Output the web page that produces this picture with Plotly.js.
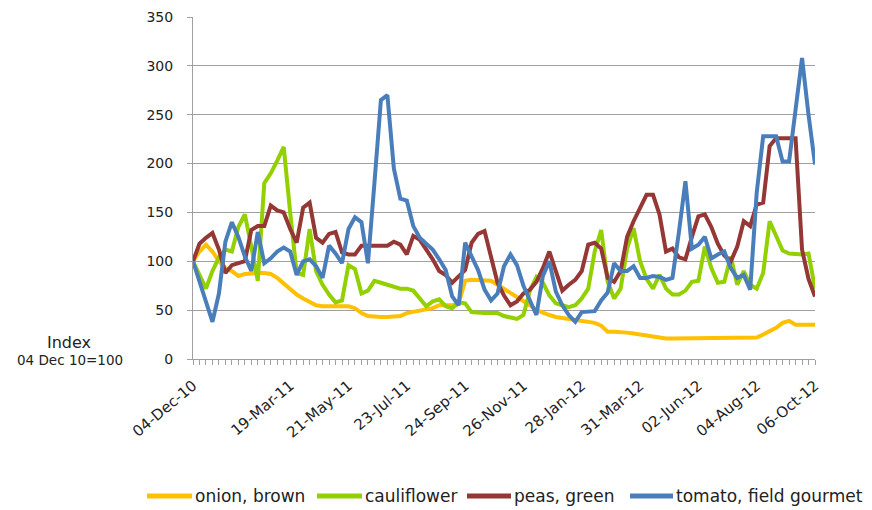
<!DOCTYPE html>
<html><head><meta charset="utf-8">
<script src="https://cdn.plot.ly/plotly-3.0.1.min.js"></script>
<style>html,body{margin:0;padding:0;background:#fff}#chart{width:872px;height:510px}</style>
</head><body><div id="chart"></div>
<script>
const weeks = [
'2010-12-04','2010-12-11','2010-12-18','2010-12-25',
'2011-01-01','2011-01-08','2011-01-15','2011-01-22','2011-01-29',
'2011-02-05','2011-02-12','2011-02-19','2011-02-26',
'2011-03-05','2011-03-12','2011-03-19','2011-03-26',
'2011-04-02','2011-04-09','2011-04-16','2011-04-23','2011-04-30',
'2011-05-07','2011-05-14','2011-05-21','2011-05-28',
'2011-06-04','2011-06-11','2011-06-18','2011-06-25',
'2011-07-02','2011-07-09','2011-07-16','2011-07-23','2011-07-30',
'2011-08-06','2011-08-13','2011-08-20','2011-08-27',
'2011-09-03','2011-09-10','2011-09-17','2011-09-24',
'2011-10-01','2011-10-08','2011-10-15','2011-10-22','2011-10-29',
'2011-11-05','2011-11-12','2011-11-19','2011-11-26',
'2011-12-03','2011-12-10','2011-12-17','2011-12-24','2011-12-31',
'2012-01-07','2012-01-14','2012-01-21','2012-01-28',
'2012-02-04','2012-02-11','2012-02-18','2012-02-25',
'2012-03-03','2012-03-10','2012-03-17','2012-03-24','2012-03-31',
'2012-04-07','2012-04-14','2012-04-21','2012-04-28',
'2012-05-05','2012-05-12','2012-05-19','2012-05-26',
'2012-06-02','2012-06-09','2012-06-16','2012-06-23','2012-06-30',
'2012-07-07','2012-07-14','2012-07-21','2012-07-28',
'2012-08-04','2012-08-11','2012-08-18','2012-08-25',
'2012-09-01','2012-09-08','2012-09-15','2012-09-22','2012-09-29',
'2012-10-06'];

const onion = [100,110,117,110,100,93,90,85,87,88,88,88,87,83,77,71,66,62,58,55,
54,54,54,54,54,52,47,44,43,43,43,43,44,47,48,49,50,52,55,55,
55,57,80,81,81,81,80,76,72,68,64,60,55,50,47,45,43,42,41,40,
38,38,37,34,28,28,28,27,26,25,24,22,21,21,21,21,21,21,21,21,
21,21,21,21,21,21,21,22,25,28,32,37,39,35,35,35,35];

const cauliflower = [100,85,72,90,104,112,110,135,148,115,80,180,190,203,217,150,88,86,133,90,
76,66,58,60,96,92,67,70,80,78,76,73,72,72,70,62,54,59,61,54,
52,58,57,48,47,47,47,47,44,42,41,45,70,84,78,65,57,55,53,55,
62,72,110,132,79,62,72,113,134,100,82,72,86,72,66,66,70,79,80,115,
93,78,79,105,76,90,76,72,88,141,125,111,108,107,107,108,72];

const peas = [100,118,124,129,112,88,96,98,100,132,136,136,157,152,150,133,119,155,160,124,
119,128,130,109,107,107,116,116,116,116,116,120,117,107,126,122,112,102,90,86,
78,84,91,119,128,131,105,78,65,55,59,67,71,79,93,110,90,70,76,81,
90,117,119,113,83,79,90,125,141,155,168,168,148,110,113,104,102,125,146,148,
135,118,106,100,115,141,136,158,160,218,226,226,226,226,112,82,64];

const tomato = [100,80,60,38,67,120,140,125,105,90,130,98,103,110,114,110,86,100,102,95,
83,116,108,98,133,145,140,98,180,265,270,195,164,162,136,124,118,112,102,91,
64,55,119,105,91,71,60,67,95,107,96,75,60,45,85,100,69,55,45,38,
48,48,49,60,68,98,90,90,95,83,83,85,84,81,83,130,182,113,117,125,
103,107,110,93,83,86,71,170,228,228,228,202,202,255,308,250,199];

const seriesNames = ['onion, brown','cauliflower','peas, green','tomato, field gourmet'];
const seriesValues = [onion, cauliflower, peas, tomato];
const seriesColors = ['#FFC000','#92D000','#953735','#4A7EBB'];

const tickDates = ['2010-12-04','2011-03-19','2011-05-21','2011-07-23','2011-09-24','2011-11-26',
'2012-01-28','2012-03-31','2012-06-02','2012-08-04','2012-10-06'];
const tickLabels = ['04-Dec-10','19-Mar-11','21-May-11','23-Jul-11','24-Sep-11','26-Nov-11',
'28-Jan-12','31-Mar-12','02-Jun-12','04-Aug-12','06-Oct-12'];
const yTitle1 = 'Index';
const yTitle2 = '04 Dec 10=100';

const FONT = 'DejaVu Sans, Verdana, sans-serif';
const AXC = '#A0A0A0';
const TXT = '#222222';

// plot-area pixel frame (for placing the non-data decorations)
const PL = 193, PR = 815, PT = 17, PB = 359;
const px = v => (v - PL) / (PR - PL);
const py = v => (PB - v) / (PB - PT);

const traces = seriesValues.map((v, k) => ({
  type: 'scatter', mode: 'lines', name: seriesNames[k],
  x: weeks, y: v,
  line: {color: seriesColors[k], width: 4, shape: 'linear'},
  hoverinfo: 'skip', showlegend: false
}));

// custom legend: sample positions (px) along the bottom
const legSample = [[147, 192], [317, 362], [467, 511], [630, 673]];
const legY = 496;
const shapes = legSample.map((s, k) => ({
  type: 'line', xref: 'paper', yref: 'paper',
  x0: px(s[0]), x1: px(s[1]), y0: py(legY), y1: py(legY),
  line: {color: seriesColors[k], width: 5}
}));
const legendAnn = legSample.map((s, k) => ({
  text: seriesNames[k], xref: 'paper', yref: 'paper',
  x: px(s[1] + 1), y: py(legY), xanchor: 'left', yanchor: 'middle',
  showarrow: false, font: {family: FONT, size: 17, color: TXT}
}));

const layout = {
  width: 872, height: 510,
  margin: {l: PL, r: 872 - PR, t: PT, b: 510 - PB, autoexpand: false},
  paper_bgcolor: '#fff', plot_bgcolor: '#fff',
  font: {family: FONT, color: TXT},
  showlegend: false,
  xaxis: {
    type: 'date', range: ['2010-12-04', '2012-10-06'], automargin: false,
    tickmode: 'array', tickvals: tickDates, ticktext: tickLabels,
    tickangle: -40, ticks: 'outside', ticklen: 5, tickcolor: AXC, tickwidth: 1,
    showline: true, linecolor: AXC, linewidth: 1, showgrid: false, zeroline: false,
    tickfont: {family: FONT, size: 15, color: TXT},
    ticklabelstandoff: 6,
    minor: {ticks: 'outside', ticklen: 5, tickcolor: AXC, tickwidth: 1,
            dtick: 7 * 86400000, tick0: '2010-12-04', showgrid: false}
  },
  yaxis: {
    range: [0, 350], dtick: 50, tick0: 0, automargin: false,
    ticks: 'outside', ticklen: 5, tickcolor: AXC, tickwidth: 1,
    showline: true, linecolor: AXC, linewidth: 1,
    gridcolor: AXC, gridwidth: 1, zeroline: false,
    tickfont: {family: FONT, size: 14, color: TXT},
    ticklabelstandoff: 11
  },
  shapes: shapes,
  annotations: [
    {text: yTitle1, xref: 'paper', yref: 'paper', x: px(69), y: py(342),
     xanchor: 'center', yanchor: 'middle', showarrow: false, font: {family: FONT, size: 16, color: TXT}},
    {text: yTitle2, xref: 'paper', yref: 'paper', x: px(70), y: py(360),
     xanchor: 'center', yanchor: 'middle', showarrow: false, font: {family: FONT, size: 13.5, color: TXT}}
  ].concat(legendAnn)
};

Plotly.newPlot('chart', traces, layout, {displayModeBar: false, staticPlot: true});
</script>
</body></html>
